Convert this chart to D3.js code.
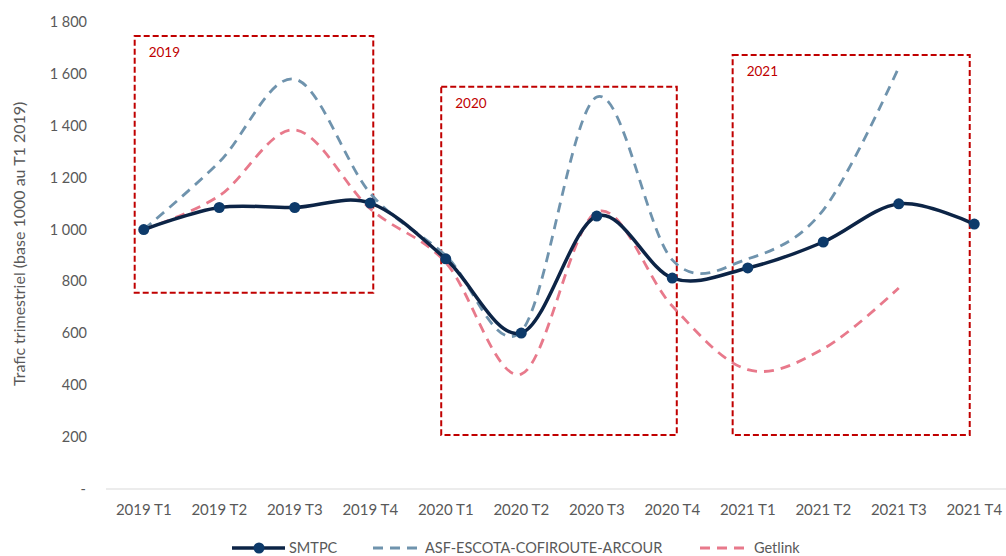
<!DOCTYPE html>
<html>
<head>
<meta charset="utf-8">
<script src="https://cdn.jsdelivr.net/npm/d3@7"></script>
<style>
  body { margin: 0; background: #fff; }
  text { font-family: Lato, "Open Sans", sans-serif; fill: #595959; }
</style>
</head>
<body>
<div id="chart"></div>
<script>
// donnees
const quarters = ["2019 T1","2019 T2","2019 T3","2019 T4","2020 T1","2020 T2","2020 T3","2020 T4","2021 T1","2021 T2","2021 T3","2021 T4"];
const smtpc   = [1000, 1085, 1085, 1102, 887, 601, 1052, 813, 852, 952, 1099, 1021];
const asf     = [1000, 1260, 1580, 1140, 900, 608, 1511, 883, 887, 1075, 1625, null];
const getlink = [1000, 1130, 1384, 1080, 873, 443, 1068, 705, 460, 540, 775, null];
const yTicks  = [0, 200, 400, 600, 800, 1000, 1200, 1400, 1600, 1800];
const yTickLabels = ["-", "200", "400", "600", "800", "1 000", "1 200", "1 400", "1 600", "1 800"];
// cadres annuels (en index de trimestre et en valeur)
const boxLabels = ["2019", "2020", "2021"];
const boxFrom   = [-0.12, 3.94, 7.80];
const boxTo     = [3.04, 7.06, 10.94];
const boxTop    = [1746, 1550, 1673];
const boxBottom = [756, 208, 208];

const width = 1006, height = 556;
const svg = d3.select("#chart").append("svg")
  .attr("width", width)
  .attr("height", height);

// echelles
const x = d3.scaleLinear().domain([-0.5, 11.5]).range([106, 1012]);
const y = d3.scaleLinear().domain([0, 1800]).range([489, 22]);

// axe x (ligne grise)
svg.append("line")
  .attr("x1", x(-0.5)).attr("x2", width)
  .attr("y1", y(0)).attr("y2", y(0))
  .attr("stroke", "#d9d9d9").attr("stroke-width", 1.2);

svg.append("g").selectAll("text")
  .data(quarters)
  .join("text")
  .attr("x", (d, i) => x(i))
  .attr("y", 515)
  .attr("text-anchor", "middle")
  .style("font-size", "15px")
  .text(d => d);

// axe y
svg.append("g").selectAll("text")
  .data(yTicks)
  .join("text")
  .attr("x", (d, i) => i == 0 ? 86 : 87)
  .attr("y", d => y(d) + 5)
  .attr("text-anchor", "end")
  .style("font-size", "14.5px")
  .text((d, i) => yTickLabels[i]);

svg.append("text")
  .attr("transform", `translate(25, ${y(945)}) rotate(-90)`)
  .attr("text-anchor", "middle")
  .style("font-size", "16px")
  .text("Trafic trimestriel (base 1000 au T1 2019)");

// cadres rouges
const boxes = svg.append("g");
boxLabels.forEach((lab, i) => {
  boxes.append("rect")
    .attr("x", x(boxFrom[i]))
    .attr("y", y(boxTop[i]))
    .attr("width", x(boxTo[i]) - x(boxFrom[i]))
    .attr("height", y(boxBottom[i]) - y(boxTop[i]))
    .attr("fill", "none")
    .attr("stroke", "#c00000")
    .attr("stroke-width", 2)
    .attr("stroke-dasharray", "6,3");
  boxes.append("text")
    .attr("x", x(boxFrom[i]) + 14)
    .attr("y", y(boxTop[i]) + 21)
    .style("font-size", "13.5px")
    .style("fill", "#c00000")
    .text(lab);
});

// courbes lissees
const line = d3.line()
  .defined(d => d != null)
  .x((d, i) => x(i))
  .y(d => y(d))
  .curve(d3.curveCardinal.tension(0));

svg.append("path")
  .datum(asf)
  .attr("d", line)
  .attr("fill", "none")
  .attr("stroke", "#6f93ad")
  .attr("stroke-width", 2.8)
  .attr("stroke-dasharray", "10,7");

svg.append("path")
  .datum(getlink)
  .attr("d", line)
  .attr("fill", "none")
  .attr("stroke", "#e8798b")
  .attr("stroke-width", 2.8)
  .attr("stroke-dasharray", "10,7");

svg.append("path")
  .datum(smtpc)
  .attr("d", line)
  .attr("fill", "none")
  .attr("stroke", "#0c2446")
  .attr("stroke-width", 3.5);

svg.append("g").selectAll("circle")
  .data(smtpc)
  .join("circle")
  .attr("cx", (d, i) => x(i))
  .attr("cy", d => y(d))
  .attr("r", 5.5)
  .attr("fill", "#0d3a6a");

// legende
const legend = svg.append("g");
const ly = 548;
legend.append("line")
  .attr("x1", 232).attr("x2", 285).attr("y1", ly).attr("y2", ly)
  .attr("stroke", "#0c2446").attr("stroke-width", 3.5);
legend.append("circle")
  .attr("cx", 259).attr("cy", ly).attr("r", 5.5).attr("fill", "#0d3a6a");
legend.append("text").attr("x", 289).attr("y", ly + 5)
  .style("font-size", "14.5px").text("SMTPC");

legend.append("line")
  .attr("x1", 373).attr("x2", 420).attr("y1", ly).attr("y2", ly)
  .attr("stroke", "#6f93ad").attr("stroke-width", 2.8).attr("stroke-dasharray", "10,7");
legend.append("text").attr("x", 425).attr("y", ly + 5)
  .style("font-size", "14.5px").text("ASF-ESCOTA-COFIROUTE-ARCOUR");

legend.append("line")
  .attr("x1", 700).attr("x2", 748).attr("y1", ly).attr("y2", ly)
  .attr("stroke", "#e8798b").attr("stroke-width", 2.8).attr("stroke-dasharray", "10,7");
legend.append("text").attr("x", 754).attr("y", ly + 5)
  .style("font-size", "14.5px").text("Getlink");
</script>
</body>
</html>
